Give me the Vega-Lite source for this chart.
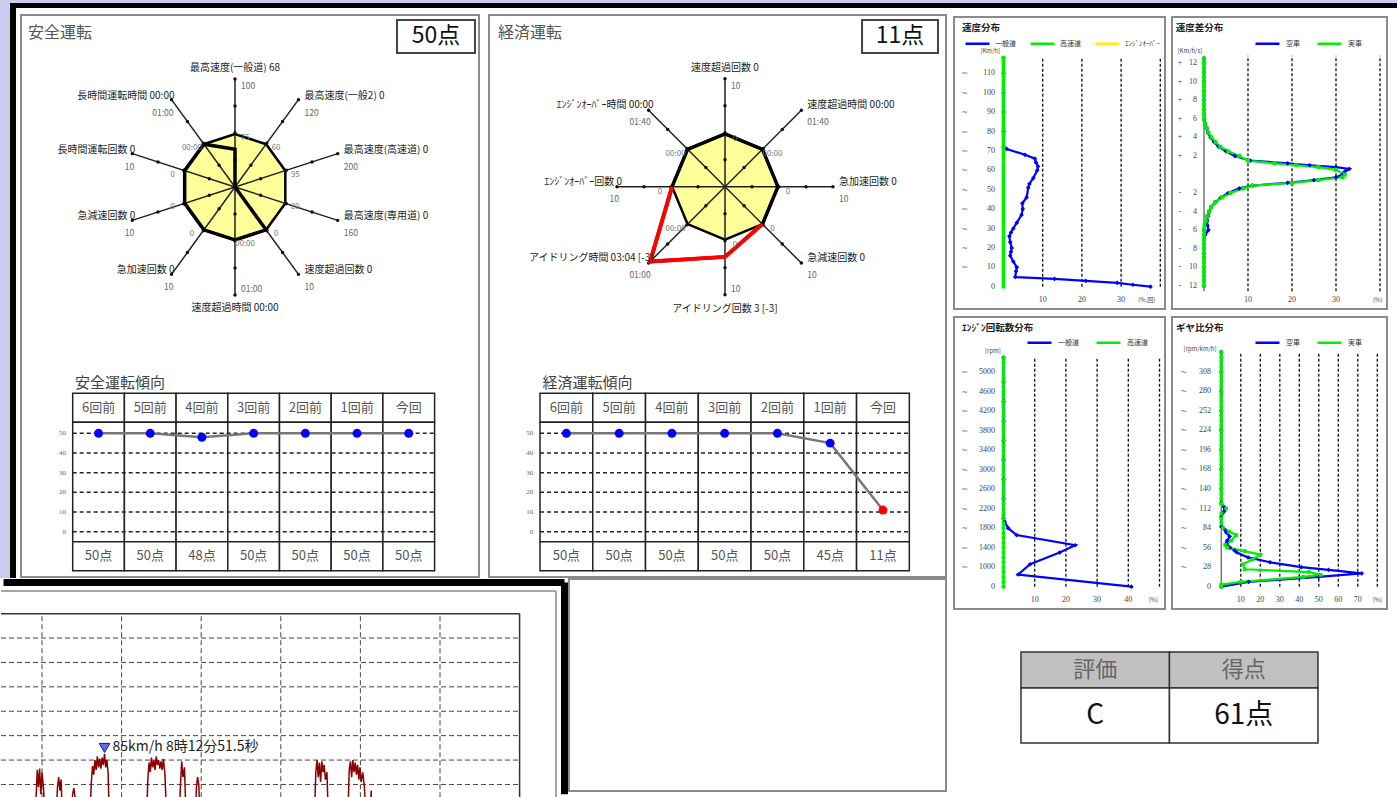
{
"$schema":"https://vega.github.io/schema/vega-lite/v6.json",
"padding":0,
"background":"#ffffff",
"config":{"view":{"stroke":null},"font":"Noto Sans CJK JP","legend":{"labelFont":"Noto Sans CJK JP"}},
"datasets":{
"radarA":[
{"idx":0,"name":"最高速度(一般道)","val":"68","max":"100","mid":"75","r":0.35},
{"idx":1,"name":"最高速度(一般2)","val":"0","max":"120","mid":"60","r":0},
{"idx":2,"name":"最高速度(高速道)","val":"0","max":"200","mid":"95","r":0},
{"idx":3,"name":"最高速度(専用道)","val":"0","max":"160","mid":"80","r":0},
{"idx":4,"name":"速度超過回数","val":"0","max":"10","mid":"0","r":0.49},
{"idx":5,"name":"速度超過時間","val":"00:00","max":"01:00","mid":"00:00","r":0.49},
{"idx":6,"name":"急加速回数","val":"0","max":"10","mid":"0","r":0.49},
{"idx":7,"name":"急減速回数","val":"0","max":"10","mid":"0","r":0.49},
{"idx":8,"name":"長時間運転回数","val":"0","max":"10","mid":"0","r":0.49},
{"idx":9,"name":"長時間運転時間","val":"00:00","max":"01:00","mid":"00:00","r":0.49}],
"radarB":[
{"idx":0,"name":"速度超過回数","val":"0","max":"10","mid":"0","r":0.49},
{"idx":1,"name":"速度超過時間","val":"00:00","max":"01:40","mid":"00:00","r":0.49},
{"idx":2,"name":"急加速回数","val":"0","max":"10","mid":"0","r":0.49},
{"idx":3,"name":"急減速回数","val":"0","max":"10","mid":"0","r":0.49},
{"idx":4,"name":"アイドリング回数","val":"3 [-3]","max":"10","mid":"0","r":0.65},
{"idx":5,"name":"アイドリング時間","val":"03:04 [-3]","max":"01:00","mid":"00:00","r":0.98},
{"idx":6,"name":"ｴﾝｼﾞﾝｵｰﾊﾞｰ回数","val":"0","max":"10","mid":"0","r":0.49},
{"idx":7,"name":"ｴﾝｼﾞﾝｵｰﾊﾞｰ時間","val":"00:00","max":"01:40","mid":"00:00","r":0.49}],
"trendA":[{"i":0,"p":"6回前","score":50},{"i":1,"p":"5回前","score":50},{"i":2,"p":"4回前","score":48},{"i":3,"p":"3回前","score":50},{"i":4,"p":"2回前","score":50},{"i":5,"p":"1回前","score":50},{"i":6,"p":"今回","score":50}],
"trendB":[{"i":0,"p":"6回前","score":50},{"i":1,"p":"5回前","score":50},{"i":2,"p":"4回前","score":50},{"i":3,"p":"3回前","score":50},{"i":4,"p":"2回前","score":50},{"i":5,"p":"1回前","score":45},{"i":6,"p":"今回","score":11}],
"gridT":[{"g":0},{"g":10},{"g":20},{"g":30},{"g":40},{"g":50}],
"speedDist":[
{"s":"一般道","v":0,"p":37.5},{"s":"一般道","v":1,"p":33},{"s":"一般道","v":2,"p":29},{"s":"一般道","v":3,"p":21},{"s":"一般道","v":4,"p":13},{"s":"一般道","v":5,"p":3},{"s":"一般道","v":8,"p":3.2},{"s":"一般道","v":10,"p":3.4},{"s":"一般道","v":13,"p":2.5},{"s":"一般道","v":16,"p":1.7},{"s":"一般道","v":18,"p":1.9},{"s":"一般道","v":20,"p":2.1},{"s":"一般道","v":23,"p":1.7},{"s":"一般道","v":26,"p":1.5},{"s":"一般道","v":28,"p":1.9},{"s":"一般道","v":30,"p":2.5},{"s":"一般道","v":33,"p":3.4},{"s":"一般道","v":37,"p":4.6},{"s":"一般道","v":40,"p":4.9},{"s":"一般道","v":43,"p":4.8},{"s":"一般道","v":46,"p":5.9},{"s":"一般道","v":51,"p":6.3},{"s":"一般道","v":53,"p":6.6},{"s":"一般道","v":56,"p":7.6},{"s":"一般道","v":60,"p":8.6},{"s":"一般道","v":62,"p":8.8},{"s":"一般道","v":64,"p":8.3},{"s":"一般道","v":66,"p":8.0},{"s":"一般道","v":68,"p":5.5},{"s":"一般道","v":71,"p":0.8},{"s":"一般道","v":72,"p":0},{"s":"一般道","v":80,"p":0},{"s":"一般道","v":90,"p":0},{"s":"一般道","v":100,"p":0},{"s":"一般道","v":110,"p":0},{"s":"一般道","v":118,"p":0},
{"s":"高速道","v":0,"p":0},{"s":"高速道","v":2,"p":0},{"s":"高速道","v":4,"p":0},{"s":"高速道","v":6,"p":0},{"s":"高速道","v":8,"p":0},{"s":"高速道","v":10,"p":0},{"s":"高速道","v":12,"p":0},{"s":"高速道","v":14,"p":0},{"s":"高速道","v":16,"p":0},{"s":"高速道","v":18,"p":0},{"s":"高速道","v":20,"p":0},{"s":"高速道","v":22,"p":0},{"s":"高速道","v":24,"p":0},{"s":"高速道","v":26,"p":0},{"s":"高速道","v":28,"p":0},{"s":"高速道","v":30,"p":0},{"s":"高速道","v":32,"p":0},{"s":"高速道","v":34,"p":0},{"s":"高速道","v":36,"p":0},{"s":"高速道","v":38,"p":0},{"s":"高速道","v":40,"p":0},{"s":"高速道","v":42,"p":0},{"s":"高速道","v":44,"p":0},{"s":"高速道","v":46,"p":0},{"s":"高速道","v":48,"p":0},{"s":"高速道","v":50,"p":0},{"s":"高速道","v":52,"p":0},{"s":"高速道","v":54,"p":0},{"s":"高速道","v":56,"p":0},{"s":"高速道","v":58,"p":0},{"s":"高速道","v":60,"p":0},{"s":"高速道","v":62,"p":0},{"s":"高速道","v":64,"p":0},{"s":"高速道","v":66,"p":0},{"s":"高速道","v":68,"p":0},{"s":"高速道","v":70,"p":0},{"s":"高速道","v":72,"p":0},{"s":"高速道","v":74,"p":0},{"s":"高速道","v":76,"p":0},{"s":"高速道","v":78,"p":0},{"s":"高速道","v":80,"p":0},{"s":"高速道","v":82,"p":0},{"s":"高速道","v":84,"p":0},{"s":"高速道","v":86,"p":0},{"s":"高速道","v":88,"p":0},{"s":"高速道","v":90,"p":0},{"s":"高速道","v":92,"p":0},{"s":"高速道","v":94,"p":0},{"s":"高速道","v":96,"p":0},{"s":"高速道","v":98,"p":0},{"s":"高速道","v":100,"p":0},{"s":"高速道","v":102,"p":0},{"s":"高速道","v":104,"p":0},{"s":"高速道","v":106,"p":0},{"s":"高速道","v":108,"p":0},{"s":"高速道","v":110,"p":0},{"s":"高速道","v":112,"p":0},{"s":"高速道","v":114,"p":0},{"s":"高速道","v":116,"p":0},{"s":"高速道","v":118,"p":0}],
"speedLab":[{"v":0},{"v":10},{"v":20},{"v":30},{"v":40},{"v":50},{"v":60},{"v":70},{"v":80},{"v":90},{"v":100},{"v":110}],
"accelDist":[
{"s":"空車","v":12.5,"p":0},{"s":"空車","v":12,"p":0},{"s":"空車","v":11,"p":0},{"s":"空車","v":10,"p":0},{"s":"空車","v":9,"p":0},{"s":"空車","v":8,"p":0},{"s":"空車","v":7,"p":0},{"s":"空車","v":6,"p":0.1},{"s":"空車","v":5.5,"p":0.3},{"s":"空車","v":5,"p":0.6},{"s":"空車","v":4.5,"p":0.9},{"s":"空車","v":4,"p":1.5},{"s":"空車","v":3.5,"p":2.3},{"s":"空車","v":3,"p":3.3},{"s":"空車","v":2.5,"p":5},{"s":"空車","v":2,"p":7},{"s":"空車","v":1.5,"p":10.5},{"s":"空車","v":1.2,"p":19},{"s":"空車","v":1,"p":24},{"s":"空車","v":0.8,"p":30},{"s":"空車","v":0.6,"p":33},{"s":"空車","v":0.3,"p":32},{"s":"空車","v":0,"p":31.5},{"s":"空車","v":-0.3,"p":30},{"s":"空車","v":-0.6,"p":25},{"s":"空車","v":-0.9,"p":19},{"s":"空車","v":-1.2,"p":11},{"s":"空車","v":-1.5,"p":8},{"s":"空車","v":-2,"p":5.5},{"s":"空車","v":-2.5,"p":3.8},{"s":"空車","v":-3,"p":2.6},{"s":"空車","v":-3.5,"p":1.6},{"s":"空車","v":-4,"p":1.2},{"s":"空車","v":-4.5,"p":0.9},{"s":"空車","v":-5,"p":0.7},{"s":"空車","v":-5.5,"p":0.8},{"s":"空車","v":-6,"p":1.0},{"s":"空車","v":-6.5,"p":0.3},{"s":"空車","v":-7,"p":0},{"s":"空車","v":-8,"p":0},{"s":"空車","v":-9,"p":0},{"s":"空車","v":-10,"p":0},{"s":"空車","v":-11,"p":0},{"s":"空車","v":-12,"p":0},
{"s":"実車","v":12.5,"p":0},{"s":"実車","v":12,"p":0},{"s":"実車","v":11.5,"p":0},{"s":"実車","v":11,"p":0},{"s":"実車","v":10.5,"p":0},{"s":"実車","v":10,"p":0},{"s":"実車","v":9.5,"p":0},{"s":"実車","v":9,"p":0},{"s":"実車","v":8.5,"p":0},{"s":"実車","v":8,"p":0},{"s":"実車","v":7.5,"p":0},{"s":"実車","v":7,"p":0},{"s":"実車","v":6.5,"p":0},{"s":"実車","v":6,"p":0},{"s":"実車","v":5.5,"p":0.2},{"s":"実車","v":5,"p":0.6},{"s":"実車","v":4.5,"p":1.0},{"s":"実車","v":4,"p":1.7},{"s":"実車","v":3.5,"p":2.6},{"s":"実車","v":3,"p":3.7},{"s":"実車","v":2.5,"p":5.5},{"s":"実車","v":2,"p":8},{"s":"実車","v":1.5,"p":10},{"s":"実車","v":1.2,"p":16},{"s":"実車","v":1,"p":21},{"s":"実車","v":0.8,"p":26},{"s":"実車","v":0.5,"p":30},{"s":"実車","v":0,"p":32},{"s":"実車","v":-0.3,"p":31.5},{"s":"実車","v":-0.6,"p":26},{"s":"実車","v":-0.9,"p":20},{"s":"実車","v":-1.2,"p":11},{"s":"実車","v":-1.5,"p":9},{"s":"実車","v":-2,"p":6},{"s":"実車","v":-2.5,"p":4},{"s":"実車","v":-3,"p":2.5},{"s":"実車","v":-3.5,"p":1.6},{"s":"実車","v":-4,"p":1.1},{"s":"実車","v":-4.5,"p":0.7},{"s":"実車","v":-5,"p":0.4},{"s":"実車","v":-5.5,"p":0.1},{"s":"実車","v":-6,"p":0},{"s":"実車","v":-6.5,"p":0},{"s":"実車","v":-7,"p":0},{"s":"実車","v":-7.5,"p":0},{"s":"実車","v":-8,"p":0},{"s":"実車","v":-8.5,"p":0},{"s":"実車","v":-9,"p":0},{"s":"実車","v":-9.5,"p":0},{"s":"実車","v":-10,"p":0},{"s":"実車","v":-10.5,"p":0},{"s":"実車","v":-11,"p":0},{"s":"実車","v":-11.5,"p":0},{"s":"実車","v":-12,"p":0}],
"accelLab":[{"v":12},{"v":10},{"v":8},{"v":6},{"v":4},{"v":2},{"v":-2},{"v":-4},{"v":-6},{"v":-8},{"v":-10},{"v":-12}],
"rpmDist":[
{"s":"一般道","v":600,"p":41},{"s":"一般道","v":850,"p":4.7},{"s":"一般道","v":1060,"p":8.5},{"s":"一般道","v":1300,"p":18},{"s":"一般道","v":1450,"p":23},{"s":"一般道","v":1660,"p":4.2},{"s":"一般道","v":1800,"p":1.5},{"s":"一般道","v":1930,"p":0.4},{"s":"一般道","v":2000,"p":0},{"s":"一般道","v":2400,"p":0},{"s":"一般道","v":2800,"p":0},{"s":"一般道","v":3200,"p":0},{"s":"一般道","v":3600,"p":0},{"s":"一般道","v":4000,"p":0},{"s":"一般道","v":4400,"p":0},{"s":"一般道","v":4800,"p":0},{"s":"一般道","v":5300,"p":0},
{"s":"高速道","v":600,"p":0},{"s":"高速道","v":700,"p":0},{"s":"高速道","v":800,"p":0},{"s":"高速道","v":900,"p":0},{"s":"高速道","v":1000,"p":0},{"s":"高速道","v":1100,"p":0},{"s":"高速道","v":1200,"p":0},{"s":"高速道","v":1300,"p":0},{"s":"高速道","v":1400,"p":0},{"s":"高速道","v":1500,"p":0},{"s":"高速道","v":1600,"p":0},{"s":"高速道","v":1700,"p":0},{"s":"高速道","v":1800,"p":0},{"s":"高速道","v":1900,"p":0},{"s":"高速道","v":2000,"p":0},{"s":"高速道","v":2100,"p":0},{"s":"高速道","v":2200,"p":0},{"s":"高速道","v":2300,"p":0},{"s":"高速道","v":2400,"p":0},{"s":"高速道","v":2500,"p":0},{"s":"高速道","v":2600,"p":0},{"s":"高速道","v":2700,"p":0},{"s":"高速道","v":2800,"p":0},{"s":"高速道","v":2900,"p":0},{"s":"高速道","v":3000,"p":0},{"s":"高速道","v":3100,"p":0},{"s":"高速道","v":3200,"p":0},{"s":"高速道","v":3300,"p":0},{"s":"高速道","v":3400,"p":0},{"s":"高速道","v":3500,"p":0},{"s":"高速道","v":3600,"p":0},{"s":"高速道","v":3700,"p":0},{"s":"高速道","v":3800,"p":0},{"s":"高速道","v":3900,"p":0},{"s":"高速道","v":4000,"p":0},{"s":"高速道","v":4100,"p":0},{"s":"高速道","v":4200,"p":0},{"s":"高速道","v":4300,"p":0},{"s":"高速道","v":4400,"p":0},{"s":"高速道","v":4500,"p":0},{"s":"高速道","v":4600,"p":0},{"s":"高速道","v":4700,"p":0},{"s":"高速道","v":4800,"p":0},{"s":"高速道","v":4900,"p":0},{"s":"高速道","v":5000,"p":0},{"s":"高速道","v":5100,"p":0},{"s":"高速道","v":5200,"p":0},{"s":"高速道","v":5300,"p":0}],
"rpmLab":[{"v":600,"t":"0"},{"v":1000,"t":"1000"},{"v":1400,"t":"1400"},{"v":1800,"t":"1800"},{"v":2200,"t":"2200"},{"v":2600,"t":"2600"},{"v":3000,"t":"3000"},{"v":3400,"t":"3400"},{"v":3800,"t":"3800"},{"v":4200,"t":"4200"},{"v":4600,"t":"4600"},{"v":5000,"t":"5000"}],
"gearDist":[
{"s":"空車","v":0,"p":0},{"s":"空車","v":7,"p":14},{"s":"空車","v":14,"p":50},{"s":"空車","v":19,"p":72},{"s":"空車","v":24,"p":55},{"s":"空車","v":28,"p":41},{"s":"空車","v":35,"p":25},{"s":"空車","v":42,"p":13.7},{"s":"空車","v":49,"p":8},{"s":"空車","v":52,"p":6.8},{"s":"空車","v":56,"p":4.5},{"s":"空車","v":62,"p":2.6},{"s":"空車","v":66,"p":3},{"s":"空車","v":72,"p":4.3},{"s":"空車","v":78,"p":2.5},{"s":"空車","v":82,"p":1.7},{"s":"空車","v":86,"p":0},{"s":"空車","v":100,"p":0},{"s":"空車","v":108,"p":1.5},{"s":"空車","v":114,"p":1.5},{"s":"空車","v":120,"p":0},{"s":"空車","v":140,"p":0},{"s":"空車","v":168,"p":0},{"s":"空車","v":196,"p":0},{"s":"空車","v":224,"p":0},{"s":"空車","v":252,"p":0},{"s":"空車","v":280,"p":0},{"s":"空車","v":308,"p":0},{"s":"空車","v":336,"p":0},
{"s":"実車","v":0,"p":0},{"s":"実車","v":3,"p":0},{"s":"実車","v":7,"p":10},{"s":"実車","v":14,"p":42},{"s":"実車","v":17,"p":51},{"s":"実車","v":21,"p":45},{"s":"実車","v":25,"p":12},{"s":"実車","v":32,"p":11},{"s":"実車","v":39,"p":16},{"s":"実車","v":46,"p":20},{"s":"実車","v":51,"p":12},{"s":"実車","v":56,"p":3},{"s":"実車","v":60,"p":2},{"s":"実車","v":66,"p":5},{"s":"実車","v":74,"p":7.7},{"s":"実車","v":79,"p":4},{"s":"実車","v":84,"p":0.8},{"s":"実車","v":91,"p":0},{"s":"実車","v":98,"p":0},{"s":"実車","v":105,"p":0},{"s":"実車","v":112,"p":2.5},{"s":"実車","v":119,"p":0},{"s":"実車","v":126,"p":0},{"s":"実車","v":133,"p":0},{"s":"実車","v":140,"p":0},{"s":"実車","v":147,"p":0},{"s":"実車","v":154,"p":0},{"s":"実車","v":161,"p":0},{"s":"実車","v":168,"p":0},{"s":"実車","v":175,"p":0},{"s":"実車","v":182,"p":0},{"s":"実車","v":189,"p":0},{"s":"実車","v":196,"p":0},{"s":"実車","v":203,"p":0},{"s":"実車","v":210,"p":0},{"s":"実車","v":217,"p":0},{"s":"実車","v":224,"p":0},{"s":"実車","v":231,"p":0},{"s":"実車","v":238,"p":0},{"s":"実車","v":245,"p":0},{"s":"実車","v":252,"p":0},{"s":"実車","v":259,"p":0},{"s":"実車","v":266,"p":0},{"s":"実車","v":273,"p":0},{"s":"実車","v":280,"p":0},{"s":"実車","v":287,"p":0},{"s":"実車","v":294,"p":0},{"s":"実車","v":301,"p":0},{"s":"実車","v":308,"p":0},{"s":"実車","v":315,"p":0},{"s":"実車","v":322,"p":0},{"s":"実車","v":329,"p":0},{"s":"実車","v":336,"p":0}],
"gearLab":[{"v":0},{"v":28},{"v":56},{"v":84},{"v":112},{"v":140},{"v":168},{"v":196},{"v":224},{"v":252},{"v":280},{"v":308}],
"drive":[
{"t":3.9,"v":20},{"t":4.3,"v":55},{"t":4.4,"v":72},{"t":4.55,"v":58},{"t":4.7,"v":73},{"t":4.85,"v":52},{"t":5.0,"v":70},{"t":5.2,"v":56},{"t":5.4,"v":25},
{"t":6.7,"v":25},{"t":6.95,"v":58},{"t":7.1,"v":66},{"t":7.25,"v":55},{"t":7.4,"v":64},{"t":7.6,"v":24},
{"t":8.6,"v":20},{"t":8.85,"v":52},{"t":9.0,"v":57},{"t":9.15,"v":50},{"t":9.3,"v":20},
{"t":11.0,"v":30},{"t":11.2,"v":62},{"t":11.35,"v":75},{"t":11.5,"v":68},{"t":11.65,"v":80},{"t":11.8,"v":72},{"t":11.95,"v":83},{"t":12.1,"v":74},{"t":12.25,"v":81},{"t":12.4,"v":73},{"t":12.55,"v":82},{"t":12.7,"v":76},{"t":12.86,"v":85},{"t":13.0,"v":74},{"t":13.15,"v":80},{"t":13.3,"v":70},{"t":13.5,"v":25},
{"t":18.1,"v":25},{"t":18.3,"v":65},{"t":18.45,"v":78},{"t":18.6,"v":70},{"t":18.75,"v":82},{"t":18.9,"v":74},{"t":19.05,"v":80},{"t":19.2,"v":72},{"t":19.35,"v":83},{"t":19.5,"v":76},{"t":19.65,"v":80},{"t":19.8,"v":73},{"t":19.95,"v":79},{"t":20.1,"v":72},{"t":20.25,"v":81},{"t":20.45,"v":68},{"t":20.7,"v":25},
{"t":22.2,"v":25},{"t":22.4,"v":60},{"t":22.55,"v":79},{"t":22.7,"v":66},{"t":22.9,"v":74},{"t":23.15,"v":22},
{"t":24.2,"v":20},{"t":24.4,"v":58},{"t":24.55,"v":66},{"t":24.7,"v":60},{"t":24.9,"v":22},
{"t":39.2,"v":30},{"t":39.4,"v":70},{"t":39.55,"v":80},{"t":39.7,"v":66},{"t":39.85,"v":78},{"t":40.0,"v":62},{"t":40.15,"v":79},{"t":40.3,"v":70},{"t":40.45,"v":76},{"t":40.6,"v":64},{"t":40.8,"v":70},{"t":41.0,"v":25},
{"t":43.4,"v":30},{"t":43.6,"v":72},{"t":43.75,"v":79},{"t":43.9,"v":66},{"t":44.05,"v":80},{"t":44.2,"v":70},{"t":44.35,"v":78},{"t":44.5,"v":68},{"t":44.65,"v":76},{"t":44.8,"v":64},{"t":44.95,"v":74},{"t":45.1,"v":62},{"t":45.3,"v":70},{"t":45.5,"v":58},{"t":45.8,"v":22},
{"t":46.2,"v":20},{"t":46.35,"v":55},{"t":46.5,"v":20}],
"evalT":[{"c":0,"h":"評価","b":"C"},{"c":1,"h":"得点","b":"61点"}]
},
"spacing":0,
"resolve":{"scale":{"color":"independent"}},
"vconcat":[
{"width":1397,"height":3,"data":{"values":[{}]},"mark":{"type":"point","size":0,"opacity":0},"view":{"fill":"#cbcbef","stroke":null}},
{"hconcat":[
 {"width":10,"height":5,"data":{"values":[{}]},"mark":{"type":"point","size":0,"opacity":0},"view":{"fill":"#cbcbef","stroke":null}},
 {"width":1387,"height":5,"data":{"values":[{}]},"mark":{"type":"point","size":0,"opacity":0},"view":{"fill":"#000000","stroke":null}}
],"spacing":0},
{"hconcat":[
{"vconcat":[
 {"hconcat":[
  {"width":10,"height":570,"data":{"values":[{}]},"mark":{"type":"point","size":0,"opacity":0},"view":{"fill":"#cbcbef","stroke":null}},
  {"width":6,"height":570,"data":{"values":[{}]},"mark":{"type":"point","size":0,"opacity":0},"view":{"fill":"#000000","stroke":null}},
  {"width":4,"height":570,"data":{"values":[{}]},"mark":{"type":"point","size":0,"opacity":0},"view":{"fill":null,"stroke":null}},
  {"vconcat":[
   {"width":458,"height":1,"data":{"values":[{}]},"mark":{"type":"point","size":0,"opacity":0},"view":{"fill":null,"stroke":null}},
   {"hconcat":[
    {"width":458,"height":562,"view":{"fill":"#ffffff","stroke":"#8a8a8a","strokeWidth":2},
     "resolve":{"scale":{"x":"independent","y":"independent"}},
     "layer":[
      {"layer":[
        {"data":{"name":"radarA"},"transform":[{"calculate":"0.49*sin(datum.idx*PI/5)","as":"px"},{"calculate":"0.49*cos(datum.idx*PI/5)","as":"py"}],"mark":{"type":"line","interpolate":"linear-closed","fill":"#ffff99","stroke":"#000000","strokeWidth":2.5},
         "encoding":{"x":{"field":"px","type":"quantitative","scale":{"domain":[-1.9815,2.2593],"nice":false,"zero":false},"axis":null},"y":{"field":"py","type":"quantitative","scale":{"domain":[-3.6111,1.5926],"nice":false,"zero":false},"axis":null},"order":{"field":"idx","type":"quantitative"}}},
        {"data":{"name":"radarA"},"transform":[{"calculate":"0","as":"px"},{"calculate":"0","as":"py"},{"calculate":"sin(datum.idx*PI/5)","as":"ex"},{"calculate":"cos(datum.idx*PI/5)","as":"ey"}],"mark":{"type":"rule","color":"#222222","strokeWidth":1.5},
         "encoding":{"x":{"field":"px","type":"quantitative","scale":{"domain":[-1.9815,2.2593],"nice":false,"zero":false},"axis":null},"y":{"field":"py","type":"quantitative","scale":{"domain":[-3.6111,1.5926],"nice":false,"zero":false},"axis":null},"x2":{"field":"ex"},"y2":{"field":"ey"}}},
        {"data":{"name":"radarA"},"transform":[{"calculate":"[0.25,0.5,0.75,1]","as":"tk"},{"flatten":["tk"]},{"calculate":"datum.tk*sin(datum.idx*PI/5)","as":"px"},{"calculate":"datum.tk*cos(datum.idx*PI/5)","as":"py"}],"mark":{"type":"point","filled":true,"size":12,"color":"#111111","opacity":1},
         "encoding":{"x":{"field":"px","type":"quantitative","scale":{"domain":[-1.9815,2.2593],"nice":false,"zero":false},"axis":null},"y":{"field":"py","type":"quantitative","scale":{"domain":[-3.6111,1.5926],"nice":false,"zero":false},"axis":null}}},
        {"data":{"name":"radarA"},"transform":[{"calculate":"datum.r*sin(datum.idx*PI/5)","as":"px"},{"calculate":"datum.r*cos(datum.idx*PI/5)","as":"py"}],"mark":{"type":"line","interpolate":"linear-closed","color":"#000000","strokeWidth":3.5},
         "encoding":{"x":{"field":"px","type":"quantitative","scale":{"domain":[-1.9815,2.2593],"nice":false,"zero":false},"axis":null},"y":{"field":"py","type":"quantitative","scale":{"domain":[-3.6111,1.5926],"nice":false,"zero":false},"axis":null},"order":{"field":"idx","type":"quantitative"}}},
        {"data":{"name":"radarA"},"transform":[{"calculate":"sin(datum.idx*PI/5)","as":"px"},{"calculate":"cos(datum.idx*PI/5)","as":"py"},{"calculate":"datum.name + ' ' + datum.val","as":"lbl"}],
         "mark":{"type":"text","fontSize":10,"color":"#222222","align":{"expr":"datum.px > 0.1 ? 'left' : datum.px < -0.1 ? 'right' : 'center'"},"dx":{"expr":"datum.px > 0.1 ? 6 : datum.px < -0.1 ? 3 : 0"},"dy":{"expr":"abs(datum.px) < 0.1 ? (datum.py > 0 ? -11 : 13) : -4"}},
         "encoding":{"x":{"field":"px","type":"quantitative","scale":{"domain":[-1.9815,2.2593],"nice":false,"zero":false},"axis":null},"y":{"field":"py","type":"quantitative","scale":{"domain":[-3.6111,1.5926],"nice":false,"zero":false},"axis":null},"text":{"field":"lbl"}}},
        {"data":{"name":"radarA"},"transform":[{"calculate":"sin(datum.idx*PI/5)","as":"px"},{"calculate":"cos(datum.idx*PI/5)","as":"py"}],
         "mark":{"type":"text","fontSize":8.5,"color":"#666666","align":{"expr":"datum.px < -0.1 ? 'right' : 'left'"},"dx":{"expr":"datum.px < -0.1 ? 2 : 6"},"dy":{"expr":"abs(datum.px) < 0.1 ? (datum.py > 0 ? 7 : -6) : 13"}},
         "encoding":{"x":{"field":"px","type":"quantitative","scale":{"domain":[-1.9815,2.2593],"nice":false,"zero":false},"axis":null},"y":{"field":"py","type":"quantitative","scale":{"domain":[-3.6111,1.5926],"nice":false,"zero":false},"axis":null},"text":{"field":"max"}}},
        {"data":{"name":"radarA"},"transform":[{"calculate":"0.49*sin(datum.idx*PI/5)","as":"px"},{"calculate":"0.49*cos(datum.idx*PI/5)","as":"py"}],
         "mark":{"type":"text","fontSize":8,"color":"#777777","dx":{"expr":"datum.px < -0.1 ? -12 : 10"},"dy":4},
         "encoding":{"x":{"field":"px","type":"quantitative","scale":{"domain":[-1.9815,2.2593],"nice":false,"zero":false},"axis":null},"y":{"field":"py","type":"quantitative","scale":{"domain":[-3.6111,1.5926],"nice":false,"zero":false},"axis":null},"text":{"field":"mid"}}},
        {"data":{"values":[{"t":"安全運転"}]},"mark":{"type":"text","align":"left","fontSize":16,"color":"#555555"},
         "encoding":{"x":{"datum":-1.917,"type":"quantitative","scale":{"domain":[-1.9815,2.2593],"nice":false,"zero":false},"axis":null},"y":{"datum":1.426,"type":"quantitative","scale":{"domain":[-3.6111,1.5926],"nice":false,"zero":false},"axis":null},"text":{"field":"t"}}},
        {"data":{"values":[{"s":50}]},"mark":{"type":"rect","fill":"#ffffff","stroke":"#444444","strokeWidth":2},
         "encoding":{"x":{"datum":1.5,"type":"quantitative","scale":{"domain":[-1.9815,2.2593],"nice":false,"zero":false},"axis":null},"x2":{"datum":2.222},"y":{"datum":1.546,"type":"quantitative","scale":{"domain":[-3.6111,1.5926],"nice":false,"zero":false},"axis":null},"y2":{"datum":1.241}}},
        {"data":{"values":[{"s":50}]},"transform":[{"calculate":"datum.s + '点'","as":"lbl"}],"mark":{"type":"text","fontSize":23,"color":"#111111"},
         "encoding":{"x":{"datum":1.861,"type":"quantitative","scale":{"domain":[-1.9815,2.2593],"nice":false,"zero":false},"axis":null},"y":{"datum":1.394,"type":"quantitative","scale":{"domain":[-3.6111,1.5926],"nice":false,"zero":false},"axis":null},"text":{"field":"lbl"}}}
       ]},
      {"layer":[
        {"data":{"name":"trendA"},"transform":[{"calculate":"datum.i-0.5","as":"x0"},{"calculate":"datum.i+0.5","as":"x1"}],"mark":{"type":"rect","fill":"#ffffff","stroke":"#222222","strokeWidth":1.5},
         "encoding":{"x":{"field":"x0","type":"quantitative","scale":{"domain":[-1.5,7.359],"nice":false,"zero":false},"axis":null},"x2":{"field":"x1"},"y":{"datum":55.6,"type":"quantitative","scale":{"domain":[-23.02,262.55],"nice":false,"zero":false},"axis":null},"y2":{"datum":70.3}}},
        {"data":{"name":"trendA"},"transform":[{"calculate":"datum.i-0.5","as":"x0"},{"calculate":"datum.i+0.5","as":"x1"}],"mark":{"type":"rect","fill":"#ffffff","stroke":"#222222","strokeWidth":1.5},
         "encoding":{"x":{"field":"x0","type":"quantitative","scale":{"domain":[-1.5,7.359],"nice":false,"zero":false},"axis":null},"x2":{"field":"x1"},"y":{"datum":-5.08,"type":"quantitative","scale":{"domain":[-23.02,262.55],"nice":false,"zero":false},"axis":null},"y2":{"datum":55.6}}},
        {"data":{"name":"trendA"},"transform":[{"calculate":"datum.i-0.5","as":"x0"},{"calculate":"datum.i+0.5","as":"x1"}],"mark":{"type":"rect","fill":"#ffffff","stroke":"#222222","strokeWidth":1.5},
         "encoding":{"x":{"field":"x0","type":"quantitative","scale":{"domain":[-1.5,7.359],"nice":false,"zero":false},"axis":null},"x2":{"field":"x1"},"y":{"datum":-19.8,"type":"quantitative","scale":{"domain":[-23.02,262.55],"nice":false,"zero":false},"axis":null},"y2":{"datum":-5.08}}},
        {"data":{"name":"gridT"},"mark":{"type":"rule","color":"#222222","strokeWidth":1.5,"strokeDash":[4,3]},
         "encoding":{"x":{"datum":-0.5,"type":"quantitative","scale":{"domain":[-1.5,7.359],"nice":false,"zero":false},"axis":null},"x2":{"datum":6.5},"y":{"field":"g","type":"quantitative","scale":{"domain":[-23.02,262.55],"nice":false,"zero":false},"axis":null}}},
        {"data":{"name":"gridT"},"mark":{"type":"text","align":"right","fontSize":7,"font":"Liberation Serif","color":"#666666"},
         "encoding":{"x":{"datum":-0.63,"type":"quantitative","scale":{"domain":[-1.5,7.359],"nice":false,"zero":false},"axis":null},"y":{"field":"g","type":"quantitative","scale":{"domain":[-23.02,262.55],"nice":false,"zero":false},"axis":null},"text":{"field":"g","type":"quantitative"}}},
        {"data":{"name":"trendA"},"mark":{"type":"line","color":"#777777","strokeWidth":2.5},
         "encoding":{"x":{"field":"i","type":"quantitative","scale":{"domain":[-1.5,7.359],"nice":false,"zero":false},"axis":null},"y":{"field":"score","type":"quantitative","scale":{"domain":[-23.02,262.55],"nice":false,"zero":false},"axis":null}}},
        {"data":{"name":"trendA"},"mark":{"type":"circle","size":80,"opacity":1},
         "encoding":{"x":{"field":"i","type":"quantitative","scale":{"domain":[-1.5,7.359],"nice":false,"zero":false},"axis":null},"y":{"field":"score","type":"quantitative","scale":{"domain":[-23.02,262.55],"nice":false,"zero":false},"axis":null},"color":{"condition":{"test":"datum.score < 30","value":"#ff0000"},"value":"#0000ff"}}},
        {"data":{"name":"trendA"},"mark":{"type":"text","fontSize":13,"color":"#555555"},
         "encoding":{"x":{"field":"i","type":"quantitative","scale":{"domain":[-1.5,7.359],"nice":false,"zero":false},"axis":null},"y":{"datum":62.95,"type":"quantitative","scale":{"domain":[-23.02,262.55],"nice":false,"zero":false},"axis":null},"text":{"field":"p"}}},
        {"data":{"name":"trendA"},"transform":[{"calculate":"datum.score + '点'","as":"lbl"}],"mark":{"type":"text","fontSize":13,"color":"#555555"},
         "encoding":{"x":{"field":"i","type":"quantitative","scale":{"domain":[-1.5,7.359],"nice":false,"zero":false},"axis":null},"y":{"datum":-12.44,"type":"quantitative","scale":{"domain":[-23.02,262.55],"nice":false,"zero":false},"axis":null},"text":{"field":"lbl"}}},
        {"data":{"values":[{"t":"安全運転傾向"}]},"mark":{"type":"text","align":"left","fontSize":15,"color":"#444444"},
         "encoding":{"x":{"datum":-0.455,"type":"quantitative","scale":{"domain":[-1.5,7.359],"nice":false,"zero":false},"axis":null},"y":{"datum":75.4,"type":"quantitative","scale":{"domain":[-23.02,262.55],"nice":false,"zero":false},"axis":null},"text":{"field":"t"}}}
       ]}
     ]},
    {"width":457,"height":562,"view":{"fill":"#ffffff","stroke":"#8a8a8a","strokeWidth":2},
     "resolve":{"scale":{"x":"independent","y":"independent"}},
     "layer":[
      {"layer":[
        {"data":{"name":"radarB"},"transform":[{"calculate":"0.49*sin(datum.idx*PI/4)","as":"px"},{"calculate":"0.49*cos(datum.idx*PI/4)","as":"py"}],"mark":{"type":"line","interpolate":"linear-closed","fill":"#ffff99","stroke":"#000000","strokeWidth":2.5},
         "encoding":{"x":{"field":"px","type":"quantitative","scale":{"domain":[-2.1852,2.0463],"nice":false,"zero":false},"axis":null},"y":{"field":"py","type":"quantitative","scale":{"domain":[-3.6139,1.5898],"nice":false,"zero":false},"axis":null},"order":{"field":"idx","type":"quantitative"}}},
        {"data":{"name":"radarB"},"transform":[{"calculate":"0","as":"px"},{"calculate":"0","as":"py"},{"calculate":"sin(datum.idx*PI/4)","as":"ex"},{"calculate":"cos(datum.idx*PI/4)","as":"ey"}],"mark":{"type":"rule","color":"#222222","strokeWidth":1.5},
         "encoding":{"x":{"field":"px","type":"quantitative","scale":{"domain":[-2.1852,2.0463],"nice":false,"zero":false},"axis":null},"y":{"field":"py","type":"quantitative","scale":{"domain":[-3.6139,1.5898],"nice":false,"zero":false},"axis":null},"x2":{"field":"ex"},"y2":{"field":"ey"}}},
        {"data":{"name":"radarB"},"transform":[{"calculate":"[0.25,0.5,0.75,1]","as":"tk"},{"flatten":["tk"]},{"calculate":"datum.tk*sin(datum.idx*PI/4)","as":"px"},{"calculate":"datum.tk*cos(datum.idx*PI/4)","as":"py"}],"mark":{"type":"point","filled":true,"size":12,"color":"#111111","opacity":1},
         "encoding":{"x":{"field":"px","type":"quantitative","scale":{"domain":[-2.1852,2.0463],"nice":false,"zero":false},"axis":null},"y":{"field":"py","type":"quantitative","scale":{"domain":[-3.6139,1.5898],"nice":false,"zero":false},"axis":null}}},
        {"data":{"name":"radarB"},"transform":[{"calculate":"datum.r*sin(datum.idx*PI/4)","as":"px"},{"calculate":"datum.r*cos(datum.idx*PI/4)","as":"py"}],"mark":{"type":"line","interpolate":"linear-closed","color":"#000000","strokeWidth":3.5},
         "encoding":{"x":{"field":"px","type":"quantitative","scale":{"domain":[-2.1852,2.0463],"nice":false,"zero":false},"axis":null},"y":{"field":"py","type":"quantitative","scale":{"domain":[-3.6139,1.5898],"nice":false,"zero":false},"axis":null},"order":{"field":"idx","type":"quantitative"}}},
        {"data":{"name":"radarB"},"transform":[{"filter":"datum.idx >= 3 && datum.idx <= 6"},{"calculate":"datum.r*sin(datum.idx*PI/4)","as":"px"},{"calculate":"datum.r*cos(datum.idx*PI/4)","as":"py"}],"mark":{"type":"line","color":"#ff0000","strokeWidth":4},
         "encoding":{"x":{"field":"px","type":"quantitative","scale":{"domain":[-2.1852,2.0463],"nice":false,"zero":false},"axis":null},"y":{"field":"py","type":"quantitative","scale":{"domain":[-3.6139,1.5898],"nice":false,"zero":false},"axis":null},"order":{"field":"idx","type":"quantitative"}}},
        {"data":{"name":"radarB"},"transform":[{"calculate":"sin(datum.idx*PI/4)","as":"px"},{"calculate":"cos(datum.idx*PI/4)","as":"py"},{"calculate":"datum.name + ' ' + datum.val","as":"lbl"}],
         "mark":{"type":"text","fontSize":10,"color":"#222222","align":{"expr":"datum.px > 0.1 ? 'left' : datum.px < -0.1 ? 'right' : 'center'"},"dx":{"expr":"datum.px > 0.1 ? 6 : datum.px < -0.1 ? 5 : 0"},"dy":{"expr":"abs(datum.px) < 0.1 ? (datum.py > 0 ? -11 : 14) : -5"}},
         "encoding":{"x":{"field":"px","type":"quantitative","scale":{"domain":[-2.1852,2.0463],"nice":false,"zero":false},"axis":null},"y":{"field":"py","type":"quantitative","scale":{"domain":[-3.6139,1.5898],"nice":false,"zero":false},"axis":null},"text":{"field":"lbl"}}},
        {"data":{"name":"radarB"},"transform":[{"calculate":"sin(datum.idx*PI/4)","as":"px"},{"calculate":"cos(datum.idx*PI/4)","as":"py"}],
         "mark":{"type":"text","fontSize":8.5,"color":"#666666","align":{"expr":"datum.px < -0.1 ? 'right' : 'left'"},"dx":{"expr":"datum.px < -0.1 ? 2 : 6"},"dy":{"expr":"abs(datum.px) < 0.1 ? (datum.py > 0 ? 7 : -6) : 12"}},
         "encoding":{"x":{"field":"px","type":"quantitative","scale":{"domain":[-2.1852,2.0463],"nice":false,"zero":false},"axis":null},"y":{"field":"py","type":"quantitative","scale":{"domain":[-3.6139,1.5898],"nice":false,"zero":false},"axis":null},"text":{"field":"max"}}},
        {"data":{"name":"radarB"},"transform":[{"calculate":"0.49*sin(datum.idx*PI/4)","as":"px"},{"calculate":"0.49*cos(datum.idx*PI/4)","as":"py"}],
         "mark":{"type":"text","fontSize":8,"color":"#777777","dx":{"expr":"datum.px < -0.1 ? -12 : 10"},"dy":5},
         "encoding":{"x":{"field":"px","type":"quantitative","scale":{"domain":[-2.1852,2.0463],"nice":false,"zero":false},"axis":null},"y":{"field":"py","type":"quantitative","scale":{"domain":[-3.6139,1.5898],"nice":false,"zero":false},"axis":null},"text":{"field":"mid"}}},
        {"data":{"values":[{"t":"経済運転"}]},"mark":{"type":"text","align":"left","fontSize":16,"color":"#555555"},
         "encoding":{"x":{"datum":-2.102,"type":"quantitative","scale":{"domain":[-2.1852,2.0463],"nice":false,"zero":false},"axis":null},"y":{"datum":1.423,"type":"quantitative","scale":{"domain":[-3.6139,1.5898],"nice":false,"zero":false},"axis":null},"text":{"field":"t"}}},
        {"data":{"values":[{"s":11}]},"mark":{"type":"rect","fill":"#ffffff","stroke":"#444444","strokeWidth":2},
         "encoding":{"x":{"datum":1.269,"type":"quantitative","scale":{"domain":[-2.1852,2.0463],"nice":false,"zero":false},"axis":null},"x2":{"datum":1.972},"y":{"datum":1.544,"type":"quantitative","scale":{"domain":[-3.6139,1.5898],"nice":false,"zero":false},"axis":null},"y2":{"datum":1.238}}},
        {"data":{"values":[{"s":11}]},"transform":[{"calculate":"datum.s + '点'","as":"lbl"}],"mark":{"type":"text","fontSize":23,"color":"#111111"},
         "encoding":{"x":{"datum":1.62,"type":"quantitative","scale":{"domain":[-2.1852,2.0463],"nice":false,"zero":false},"axis":null},"y":{"datum":1.391,"type":"quantitative","scale":{"domain":[-3.6139,1.5898],"nice":false,"zero":false},"axis":null},"text":{"field":"lbl"}}}
       ]},
      {"layer":[
        {"data":{"name":"trendB"},"transform":[{"calculate":"datum.i-0.5","as":"x0"},{"calculate":"datum.i+0.5","as":"x1"}],"mark":{"type":"rect","fill":"#ffffff","stroke":"#222222","strokeWidth":1.5},
         "encoding":{"x":{"field":"x0","type":"quantitative","scale":{"domain":[-1.4667,7.195],"nice":false,"zero":false},"axis":null},"x2":{"field":"x1"},"y":{"datum":55.6,"type":"quantitative","scale":{"domain":[-23.02,262.55],"nice":false,"zero":false},"axis":null},"y2":{"datum":70.3}}},
        {"data":{"name":"trendB"},"transform":[{"calculate":"datum.i-0.5","as":"x0"},{"calculate":"datum.i+0.5","as":"x1"}],"mark":{"type":"rect","fill":"#ffffff","stroke":"#222222","strokeWidth":1.5},
         "encoding":{"x":{"field":"x0","type":"quantitative","scale":{"domain":[-1.4667,7.195],"nice":false,"zero":false},"axis":null},"x2":{"field":"x1"},"y":{"datum":-5.08,"type":"quantitative","scale":{"domain":[-23.02,262.55],"nice":false,"zero":false},"axis":null},"y2":{"datum":55.6}}},
        {"data":{"name":"trendB"},"transform":[{"calculate":"datum.i-0.5","as":"x0"},{"calculate":"datum.i+0.5","as":"x1"}],"mark":{"type":"rect","fill":"#ffffff","stroke":"#222222","strokeWidth":1.5},
         "encoding":{"x":{"field":"x0","type":"quantitative","scale":{"domain":[-1.4667,7.195],"nice":false,"zero":false},"axis":null},"x2":{"field":"x1"},"y":{"datum":-19.8,"type":"quantitative","scale":{"domain":[-23.02,262.55],"nice":false,"zero":false},"axis":null},"y2":{"datum":-5.08}}},
        {"data":{"name":"gridT"},"mark":{"type":"rule","color":"#222222","strokeWidth":1.5,"strokeDash":[4,3]},
         "encoding":{"x":{"datum":-0.5,"type":"quantitative","scale":{"domain":[-1.4667,7.195],"nice":false,"zero":false},"axis":null},"x2":{"datum":6.5},"y":{"field":"g","type":"quantitative","scale":{"domain":[-23.02,262.55],"nice":false,"zero":false},"axis":null}}},
        {"data":{"name":"gridT"},"mark":{"type":"text","align":"right","fontSize":7,"font":"Liberation Serif","color":"#666666"},
         "encoding":{"x":{"datum":-0.63,"type":"quantitative","scale":{"domain":[-1.4667,7.195],"nice":false,"zero":false},"axis":null},"y":{"field":"g","type":"quantitative","scale":{"domain":[-23.02,262.55],"nice":false,"zero":false},"axis":null},"text":{"field":"g","type":"quantitative"}}},
        {"data":{"name":"trendB"},"mark":{"type":"line","color":"#777777","strokeWidth":2.5},
         "encoding":{"x":{"field":"i","type":"quantitative","scale":{"domain":[-1.4667,7.195],"nice":false,"zero":false},"axis":null},"y":{"field":"score","type":"quantitative","scale":{"domain":[-23.02,262.55],"nice":false,"zero":false},"axis":null}}},
        {"data":{"name":"trendB"},"mark":{"type":"circle","size":80,"opacity":1},
         "encoding":{"x":{"field":"i","type":"quantitative","scale":{"domain":[-1.4667,7.195],"nice":false,"zero":false},"axis":null},"y":{"field":"score","type":"quantitative","scale":{"domain":[-23.02,262.55],"nice":false,"zero":false},"axis":null},"color":{"condition":{"test":"datum.score < 30","value":"#ff0000"},"value":"#0000ff"}}},
        {"data":{"name":"trendB"},"mark":{"type":"text","fontSize":13,"color":"#555555"},
         "encoding":{"x":{"field":"i","type":"quantitative","scale":{"domain":[-1.4667,7.195],"nice":false,"zero":false},"axis":null},"y":{"datum":62.95,"type":"quantitative","scale":{"domain":[-23.02,262.55],"nice":false,"zero":false},"axis":null},"text":{"field":"p"}}},
        {"data":{"name":"trendB"},"transform":[{"calculate":"datum.score + '点'","as":"lbl"}],"mark":{"type":"text","fontSize":13,"color":"#555555"},
         "encoding":{"x":{"field":"i","type":"quantitative","scale":{"domain":[-1.4667,7.195],"nice":false,"zero":false},"axis":null},"y":{"datum":-12.44,"type":"quantitative","scale":{"domain":[-23.02,262.55],"nice":false,"zero":false},"axis":null},"text":{"field":"lbl"}}},
        {"data":{"values":[{"t":"経済運転傾向"}]},"mark":{"type":"text","align":"left","fontSize":15,"color":"#444444"},
         "encoding":{"x":{"datum":-0.455,"type":"quantitative","scale":{"domain":[-1.4667,7.195],"nice":false,"zero":false},"axis":null},"y":{"datum":75.4,"type":"quantitative","scale":{"domain":[-23.02,262.55],"nice":false,"zero":false},"axis":null},"text":{"field":"t"}}}
       ]}
     ]}
   ],"spacing":8}
  ],"spacing":5}
 ],"spacing":0},
 {"hconcat":[
  {"width":568,"height":219,"view":{"fill":"#ffffff","stroke":null},
   "layer":[
    {"data":{"values":[{"t":5},{"t":15},{"t":25},{"t":35},{"t":45},{"t":55}]},"mark":{"type":"rule","color":"#444444","strokeWidth":1,"strokeDash":[5,3]},
     "encoding":{"x":{"field":"t","type":"quantitative","scale":{"domain":[-0.276,71.08],"nice":false,"zero":false},"axis":null},"y":{"datum":49.5,"type":"quantitative","scale":{"domain":[48.9,228.4],"nice":false,"zero":false},"axis":null},"y2":{"datum":200}}},
    {"data":{"values":[{"v":60},{"v":80},{"v":100},{"v":120},{"v":140},{"v":160},{"v":180}]},"mark":{"type":"rule","color":"#444444","strokeWidth":1,"strokeDash":[5,3]},
     "encoding":{"y":{"field":"v","type":"quantitative","scale":{"domain":[48.9,228.4],"nice":false,"zero":false},"axis":null},"x":{"datum":-0.15,"type":"quantitative","scale":{"domain":[-0.276,71.08],"nice":false,"zero":false},"axis":null},"x2":{"datum":65}}},
    {"data":{"values":[{}]},"mark":{"type":"rule","color":"#333333","strokeWidth":1.5},
     "encoding":{"x":{"datum":-0.15,"type":"quantitative","scale":{"domain":[-0.276,71.08],"nice":false,"zero":false},"axis":null},"x2":{"datum":65},"y":{"datum":200,"type":"quantitative","scale":{"domain":[48.9,228.4],"nice":false,"zero":false},"axis":null}}},
    {"data":{"values":[{}]},"mark":{"type":"rule","color":"#333333","strokeWidth":1.5},
     "encoding":{"x":{"datum":65,"type":"quantitative","scale":{"domain":[-0.276,71.08],"nice":false,"zero":false},"axis":null},"y":{"datum":49.5,"type":"quantitative","scale":{"domain":[48.9,228.4],"nice":false,"zero":false},"axis":null},"y2":{"datum":200}}},
    {"data":{"name":"drive"},"mark":{"type":"line","color":"#8b0000","strokeWidth":1.5,"clip":true},
     "encoding":{"x":{"field":"t","type":"quantitative","scale":{"domain":[-0.276,71.08],"nice":false,"zero":false},"axis":null},"y":{"field":"v","type":"quantitative","scale":{"domain":[48.9,228.4],"nice":false,"zero":false},"axis":null}}},
    {"data":{"values":[{"t":12.86,"v":85,"lbl":"85km/h 8時12分51.5秒"}]},"mark":{"type":"point","shape":"triangle-down","filled":true,"size":110,"fill":"#5b6bff","stroke":"#1a1a60","strokeWidth":1,"opacity":1,"yOffset":-6},
     "encoding":{"x":{"field":"t","type":"quantitative","scale":{"domain":[-0.276,71.08],"nice":false,"zero":false},"axis":null},"y":{"field":"v","type":"quantitative","scale":{"domain":[48.9,228.4],"nice":false,"zero":false},"axis":null}}},
    {"data":{"values":[{"t":12.86,"v":85,"lbl":"85km/h 8時12分51.5秒"}]},"mark":{"type":"text","align":"left","dx":8,"dy":-7,"fontSize":14,"color":"#222222"},
     "encoding":{"x":{"field":"t","type":"quantitative","scale":{"domain":[-0.276,71.08],"nice":false,"zero":false},"axis":null},"y":{"field":"v","type":"quantitative","scale":{"domain":[48.9,228.4],"nice":false,"zero":false},"axis":null},"text":{"field":"lbl"}}},
    {"data":{"values":[{}]},"mark":{"type":"rule","color":"#888888","strokeWidth":1.5},
     "encoding":{"x":{"datum":-0.15,"type":"quantitative","scale":{"domain":[-0.276,71.08],"nice":false,"zero":false},"axis":null},"x2":{"datum":69.57},"y":{"datum":218.6,"type":"quantitative","scale":{"domain":[48.9,228.4],"nice":false,"zero":false},"axis":null}}},
    {"data":{"values":[{}]},"mark":{"type":"rule","color":"#888888","strokeWidth":1.5},
     "encoding":{"x":{"datum":69.57,"type":"quantitative","scale":{"domain":[-0.276,71.08],"nice":false,"zero":false},"axis":null},"y":{"datum":49.5,"type":"quantitative","scale":{"domain":[48.9,228.4],"nice":false,"zero":false},"axis":null},"y2":{"datum":218.6}}},
    {"data":{"values":[{}]},"mark":{"type":"rule","color":"#000000","strokeWidth":7},
     "encoding":{"x":{"datum":0.17,"type":"quantitative","scale":{"domain":[-0.276,71.08],"nice":false,"zero":false},"axis":null},"x2":{"datum":70.64},"y":{"datum":225.5,"type":"quantitative","scale":{"domain":[48.9,228.4],"nice":false,"zero":false},"axis":null}}},
    {"data":{"values":[{}]},"mark":{"type":"rule","color":"#000000","strokeWidth":7},
     "encoding":{"x":{"datum":70.64,"type":"quantitative","scale":{"domain":[-0.276,71.08],"nice":false,"zero":false},"axis":null},"y":{"datum":52,"type":"quantitative","scale":{"domain":[48.9,228.4],"nice":false,"zero":false},"axis":null},"y2":{"datum":225.5}}}
   ]},
  {"width":377,"height":212,"data":{"values":[{}]},"mark":{"type":"point","size":0,"opacity":0},"view":{"fill":"#ffffff","stroke":"#8a8a8a","strokeWidth":2}}
 ],"spacing":0}
],"spacing":0},
{"vconcat":[
 {"width":444,"height":3,"data":{"values":[{}]},"mark":{"type":"point","size":0,"opacity":0},"view":{"fill":null,"stroke":null}},
 {"vconcat":[
  {"hconcat":[
   {"width":211,"height":292,"view":{"fill":"#ffffff","stroke":"#8a8a8a","strokeWidth":2},
    "layer":[
     {"data":{"values":[{"g":10},{"g":20},{"g":30},{"g":40}]},"mark":{"type":"rule","color":"#111111","strokeWidth":1.3,"strokeDash":[3,2]},
      "encoding":{"x":{"field":"g","type":"quantitative","scale":{"domain":[-12.63,41.2],"nice":false,"zero":false},"axis":null},"y":{"datum":0,"type":"quantitative","scale":{"domain":[-11.49,139.02],"nice":false,"zero":false},"axis":null},"y2":{"datum":118.5}}},
     {"data":{"values":[{"g":10},{"g":20},{"g":30}]},"mark":{"type":"text","font":"Liberation Serif","fontSize":8,"color":"#444444"},
      "encoding":{"x":{"field":"g","type":"quantitative","scale":{"domain":[-12.63,41.2],"nice":false,"zero":false},"axis":null},"y":{"datum":-6.9,"type":"quantitative","scale":{"domain":[-11.49,139.02],"nice":false,"zero":false},"axis":null},"text":{"field":"g","type":"quantitative"}}},
     {"data":{"values":[{"t":"(%,回)"}]},"mark":{"type":"text","fontSize":6,"color":"#444444"},
      "encoding":{"x":{"datum":36.5,"type":"quantitative","scale":{"domain":[-12.63,41.2],"nice":false,"zero":false},"axis":null},"y":{"datum":-6.9,"type":"quantitative","scale":{"domain":[-11.49,139.02],"nice":false,"zero":false},"axis":null},"text":{"field":"t"}}},
     {"data":{"name":"speedLab"},"mark":{"type":"text","align":"right","font":"Liberation Serif","fontSize":8,"color":"#444444"},
      "encoding":{"x":{"datum":-2.2,"type":"quantitative","scale":{"domain":[-12.63,41.2],"nice":false,"zero":false},"axis":null},"y":{"field":"v","type":"quantitative","scale":{"domain":[-11.49,139.02],"nice":false,"zero":false},"axis":null},"text":{"field":"v","type":"quantitative"}}},
     {"data":{"name":"speedLab"},"transform":[{"filter":"datum.v > 0"}],"mark":{"type":"text","align":"left","font":"Liberation Serif","fontSize":10,"color":"#444444"},
      "encoding":{"x":{"datum":-10.6,"type":"quantitative","scale":{"domain":[-12.63,41.2],"nice":false,"zero":false},"axis":null},"y":{"field":"v","type":"quantitative","scale":{"domain":[-11.49,139.02],"nice":false,"zero":false},"axis":null},"text":{"value":"~"}}},
     {"data":{"values":[{"t":"[Km/h]"}]},"mark":{"type":"text","fontSize":6,"color":"#444444"},
      "encoding":{"x":{"datum":-3.4,"type":"quantitative","scale":{"domain":[-12.63,41.2],"nice":false,"zero":false},"axis":null},"y":{"datum":121.5,"type":"quantitative","scale":{"domain":[-11.49,139.02],"nice":false,"zero":false},"axis":null},"text":{"field":"t"}}},
     {"data":{"values":[{"t":"速度分布"}]},"mark":{"type":"text","align":"left","fontSize":9.5,"fontWeight":"bold","color":"#222222"},
      "encoding":{"x":{"datum":-10.6,"type":"quantitative","scale":{"domain":[-12.63,41.2],"nice":false,"zero":false},"axis":null},"y":{"datum":133.4,"type":"quantitative","scale":{"domain":[-11.49,139.02],"nice":false,"zero":false},"axis":null},"text":{"field":"t"}}},
     {"data":{"name":"speedDist"},"mark":{"type":"line","strokeWidth":2.2},
      "encoding":{"x":{"field":"p","type":"quantitative","scale":{"domain":[-12.63,41.2],"nice":false,"zero":false},"axis":null},"y":{"field":"v","type":"quantitative","scale":{"domain":[-11.49,139.02],"nice":false,"zero":false},"axis":null},"order":{"field":"v","type":"quantitative"},
       "color":{"field":"s","type":"nominal","scale":{"domain":["一般道","高速道","ｴﾝｼﾞﾝｵｰﾊﾞｰ"],"range":["#0000ff","#00ee00","#ffee00"]},
        "legend":{"orient":"none","legendX":10,"legendY":13,"direction":"horizontal","title":null,"labelFontSize":7,"labelColor":"#333333","symbolType":"stroke","symbolStrokeWidth":2.5,"symbolSize":576,"columnPadding":9,"labelOffset":4,"padding":0}}}},
     {"data":{"name":"speedDist"},"transform":[{"filter":"datum.s === '一般道'"}],"mark":{"type":"point","shape":"diamond","filled":true,"size":22,"color":"#0000ff","opacity":1},
      "encoding":{"x":{"field":"p","type":"quantitative","scale":{"domain":[-12.63,41.2],"nice":false,"zero":false},"axis":null},"y":{"field":"v","type":"quantitative","scale":{"domain":[-11.49,139.02],"nice":false,"zero":false},"axis":null}}},
     {"data":{"name":"speedDist"},"transform":[{"filter":"datum.s === '高速道'"}],"mark":{"type":"point","shape":"square","filled":true,"size":14,"color":"#00ee00","opacity":1},
      "encoding":{"x":{"field":"p","type":"quantitative","scale":{"domain":[-12.63,41.2],"nice":false,"zero":false},"axis":null},"y":{"field":"v","type":"quantitative","scale":{"domain":[-11.49,139.02],"nice":false,"zero":false},"axis":null}}}
    ]},
   {"width":215,"height":292,"view":{"fill":"#ffffff","stroke":"#8a8a8a","strokeWidth":2},
    "layer":[
     {"data":{"values":[{"g":10},{"g":20},{"g":30},{"g":40}]},"mark":{"type":"rule","color":"#111111","strokeWidth":1.3,"strokeDash":[3,2]},
      "encoding":{"x":{"field":"g","type":"quantitative","scale":{"domain":[-7.27,41.59],"nice":false,"zero":false},"axis":null},"y":{"datum":-12.6,"type":"quantitative","scale":{"domain":[-14.51,16.99],"nice":false,"zero":false},"axis":null},"y2":{"datum":12.8}}},
     {"data":{"values":[{}]},"mark":{"type":"rule","color":"#777777","strokeWidth":1.5},
      "encoding":{"x":{"datum":0,"type":"quantitative","scale":{"domain":[-7.27,41.59],"nice":false,"zero":false},"axis":null},"y":{"datum":-12.6,"type":"quantitative","scale":{"domain":[-14.51,16.99],"nice":false,"zero":false},"axis":null},"y2":{"datum":12.8}}},
     {"data":{"values":[{"g":10},{"g":20},{"g":30}]},"mark":{"type":"text","font":"Liberation Serif","fontSize":8,"color":"#444444"},
      "encoding":{"x":{"field":"g","type":"quantitative","scale":{"domain":[-7.27,41.59],"nice":false,"zero":false},"axis":null},"y":{"datum":-13.5,"type":"quantitative","scale":{"domain":[-14.51,16.99],"nice":false,"zero":false},"axis":null},"text":{"field":"g","type":"quantitative"}}},
     {"data":{"values":[{"t":"(%)"}]},"mark":{"type":"text","fontSize":6,"color":"#444444"},
      "encoding":{"x":{"datum":39.5,"type":"quantitative","scale":{"domain":[-7.27,41.59],"nice":false,"zero":false},"axis":null},"y":{"datum":-13.5,"type":"quantitative","scale":{"domain":[-14.51,16.99],"nice":false,"zero":false},"axis":null},"text":{"field":"t"}}},
     {"data":{"name":"accelLab"},"transform":[{"calculate":"abs(datum.v)","as":"num"}],"mark":{"type":"text","align":"right","font":"Liberation Serif","fontSize":8,"color":"#444444"},
      "encoding":{"x":{"datum":-1.6,"type":"quantitative","scale":{"domain":[-7.27,41.59],"nice":false,"zero":false},"axis":null},"y":{"field":"v","type":"quantitative","scale":{"domain":[-14.51,16.99],"nice":false,"zero":false},"axis":null},"text":{"field":"num","type":"quantitative"}}},
     {"data":{"name":"accelLab"},"transform":[{"calculate":"datum.v > 0 ? '+' : '-'","as":"sgn"}],"mark":{"type":"text","font":"Liberation Serif","fontSize":8,"color":"#444444"},
      "encoding":{"x":{"datum":-5.45,"type":"quantitative","scale":{"domain":[-7.27,41.59],"nice":false,"zero":false},"axis":null},"y":{"field":"v","type":"quantitative","scale":{"domain":[-14.51,16.99],"nice":false,"zero":false},"axis":null},"text":{"field":"sgn"}}},
     {"data":{"values":[{"t":"[Km/h/s]"}]},"mark":{"type":"text","fontSize":6,"color":"#444444"},
      "encoding":{"x":{"datum":-3.2,"type":"quantitative","scale":{"domain":[-7.27,41.59],"nice":false,"zero":false},"axis":null},"y":{"datum":13.3,"type":"quantitative","scale":{"domain":[-14.51,16.99],"nice":false,"zero":false},"axis":null},"text":{"field":"t"}}},
     {"data":{"values":[{"t":"速度差分布"}]},"mark":{"type":"text","align":"left","fontSize":9.5,"fontWeight":"bold","color":"#222222"},
      "encoding":{"x":{"datum":-6.4,"type":"quantitative","scale":{"domain":[-7.27,41.59],"nice":false,"zero":false},"axis":null},"y":{"datum":15.8,"type":"quantitative","scale":{"domain":[-14.51,16.99],"nice":false,"zero":false},"axis":null},"text":{"field":"t"}}},
     {"data":{"name":"accelDist"},"mark":{"type":"line","strokeWidth":2.2},
      "encoding":{"x":{"field":"p","type":"quantitative","scale":{"domain":[-7.27,41.59],"nice":false,"zero":false},"axis":null},"y":{"field":"v","type":"quantitative","scale":{"domain":[-14.51,16.99],"nice":false,"zero":false},"axis":null},"order":{"field":"v","type":"quantitative"},
       "color":{"field":"s","type":"nominal","scale":{"domain":["空車","実車"],"range":["#0000ff","#00ee00"]},
        "legend":{"orient":"none","legendX":82,"legendY":13,"direction":"horizontal","title":null,"labelFontSize":7,"labelColor":"#333333","symbolType":"stroke","symbolStrokeWidth":2.5,"symbolSize":576,"columnPadding":12,"labelOffset":5,"padding":0}}}},
     {"data":{"name":"accelDist"},"transform":[{"filter":"datum.s === '空車'"}],"mark":{"type":"point","shape":"diamond","filled":true,"size":22,"color":"#0000ff","opacity":1},
      "encoding":{"x":{"field":"p","type":"quantitative","scale":{"domain":[-7.27,41.59],"nice":false,"zero":false},"axis":null},"y":{"field":"v","type":"quantitative","scale":{"domain":[-14.51,16.99],"nice":false,"zero":false},"axis":null}}},
     {"data":{"name":"accelDist"},"transform":[{"filter":"datum.s === '実車'"}],"mark":{"type":"point","shape":"square","filled":true,"size":16,"color":"#00ee00","opacity":1},
      "encoding":{"x":{"field":"p","type":"quantitative","scale":{"domain":[-7.27,41.59],"nice":false,"zero":false},"axis":null},"y":{"field":"v","type":"quantitative","scale":{"domain":[-14.51,16.99],"nice":false,"zero":false},"axis":null}}}
    ]}
  ],"spacing":5,"resolve":{"scale":{"color":"independent"}}},
  {"hconcat":[
   {"width":211,"height":292,"view":{"fill":"#ffffff","stroke":"#8a8a8a","strokeWidth":2},
    "layer":[
     {"data":{"values":[{"g":10},{"g":20},{"g":30},{"g":40},{"g":50}]},"mark":{"type":"rule","color":"#111111","strokeWidth":1.3,"strokeDash":[3,2]},
      "encoding":{"x":{"field":"g","type":"quantitative","scale":{"domain":[-15.87,51.76],"nice":false,"zero":false},"axis":null},"y":{"datum":600,"type":"quantitative","scale":{"domain":[143,6132],"nice":false,"zero":false},"axis":null},"y2":{"datum":5318}}},
     {"data":{"values":[{"g":10},{"g":20},{"g":30},{"g":40}]},"mark":{"type":"text","font":"Liberation Serif","fontSize":8,"color":"#444444"},
      "encoding":{"x":{"field":"g","type":"quantitative","scale":{"domain":[-15.87,51.76],"nice":false,"zero":false},"axis":null},"y":{"datum":327,"type":"quantitative","scale":{"domain":[143,6132],"nice":false,"zero":false},"axis":null},"text":{"field":"g","type":"quantitative"}}},
     {"data":{"values":[{"t":"(%)"}]},"mark":{"type":"text","fontSize":6,"color":"#444444"},
      "encoding":{"x":{"datum":48,"type":"quantitative","scale":{"domain":[-15.87,51.76],"nice":false,"zero":false},"axis":null},"y":{"datum":327,"type":"quantitative","scale":{"domain":[143,6132],"nice":false,"zero":false},"axis":null},"text":{"field":"t"}}},
     {"data":{"name":"rpmLab"},"mark":{"type":"text","align":"right","font":"Liberation Serif","fontSize":8,"color":"#444444"},
      "encoding":{"x":{"datum":-2.7,"type":"quantitative","scale":{"domain":[-15.87,51.76],"nice":false,"zero":false},"axis":null},"y":{"field":"v","type":"quantitative","scale":{"domain":[143,6132],"nice":false,"zero":false},"axis":null},"text":{"field":"t"}}},
     {"data":{"name":"rpmLab"},"transform":[{"filter":"datum.v > 600"}],"mark":{"type":"text","align":"left","font":"Liberation Serif","fontSize":10,"color":"#444444"},
      "encoding":{"x":{"datum":-13.3,"type":"quantitative","scale":{"domain":[-15.87,51.76],"nice":false,"zero":false},"axis":null},"y":{"field":"v","type":"quantitative","scale":{"domain":[143,6132],"nice":false,"zero":false},"axis":null},"text":{"value":"~"}}},
     {"data":{"values":[{"t":"[rpm]"}]},"mark":{"type":"text","fontSize":6,"color":"#444444"},
      "encoding":{"x":{"datum":-3.4,"type":"quantitative","scale":{"domain":[-15.87,51.76],"nice":false,"zero":false},"axis":null},"y":{"datum":5430,"type":"quantitative","scale":{"domain":[143,6132],"nice":false,"zero":false},"axis":null},"text":{"field":"t"}}},
     {"data":{"values":[{"t":"ｴﾝｼﾞﾝ回転数分布"}]},"mark":{"type":"text","align":"left","fontSize":9.5,"fontWeight":"bold","color":"#222222"},
      "encoding":{"x":{"datum":-13.3,"type":"quantitative","scale":{"domain":[-15.87,51.76],"nice":false,"zero":false},"axis":null},"y":{"datum":5907,"type":"quantitative","scale":{"domain":[143,6132],"nice":false,"zero":false},"axis":null},"text":{"field":"t"}}},
     {"data":{"name":"rpmDist"},"mark":{"type":"line","strokeWidth":2.2},
      "encoding":{"x":{"field":"p","type":"quantitative","scale":{"domain":[-15.87,51.76],"nice":false,"zero":false},"axis":null},"y":{"field":"v","type":"quantitative","scale":{"domain":[143,6132],"nice":false,"zero":false},"axis":null},"order":{"field":"v","type":"quantitative"},
       "color":{"field":"s","type":"nominal","scale":{"domain":["一般道","高速道"],"range":["#0000ff","#00ee00"]},
        "legend":{"orient":"none","legendX":72,"legendY":12,"direction":"horizontal","title":null,"labelFontSize":7,"labelColor":"#333333","symbolType":"stroke","symbolStrokeWidth":2.5,"symbolSize":576,"columnPadding":12,"labelOffset":5,"padding":0}}}},
     {"data":{"name":"rpmDist"},"transform":[{"filter":"datum.s === '一般道'"}],"mark":{"type":"point","shape":"diamond","filled":true,"size":22,"color":"#0000ff","opacity":1},
      "encoding":{"x":{"field":"p","type":"quantitative","scale":{"domain":[-15.87,51.76],"nice":false,"zero":false},"axis":null},"y":{"field":"v","type":"quantitative","scale":{"domain":[143,6132],"nice":false,"zero":false},"axis":null}}},
     {"data":{"name":"rpmDist"},"transform":[{"filter":"datum.s === '高速道'"}],"mark":{"type":"point","shape":"square","filled":true,"size":14,"color":"#00ee00","opacity":1},
      "encoding":{"x":{"field":"p","type":"quantitative","scale":{"domain":[-15.87,51.76],"nice":false,"zero":false},"axis":null},"y":{"field":"v","type":"quantitative","scale":{"domain":[143,6132],"nice":false,"zero":false},"axis":null}}}
    ]},
   {"width":215,"height":292,"view":{"fill":"#ffffff","stroke":"#8a8a8a","strokeWidth":2},
    "layer":[
     {"data":{"values":[{"g":10},{"g":20},{"g":30},{"g":40},{"g":50},{"g":60},{"g":70},{"g":80}]},"mark":{"type":"rule","color":"#111111","strokeWidth":1.3,"strokeDash":[3,2]},
      "encoding":{"x":{"field":"g","type":"quantitative","scale":{"domain":[-25.28,84.97],"nice":false,"zero":false},"axis":null},"y":{"datum":0,"type":"quantitative","scale":{"domain":[-31.95,386.4],"nice":false,"zero":false},"axis":null},"y2":{"datum":336}}},
     {"data":{"values":[{}]},"mark":{"type":"rule","color":"#777777","strokeWidth":1.5},
      "encoding":{"x":{"datum":0,"type":"quantitative","scale":{"domain":[-25.28,84.97],"nice":false,"zero":false},"axis":null},"y":{"datum":0,"type":"quantitative","scale":{"domain":[-31.95,386.4],"nice":false,"zero":false},"axis":null},"y2":{"datum":336}}},
     {"data":{"values":[{"g":10},{"g":20},{"g":30},{"g":40},{"g":50},{"g":60},{"g":70}]},"mark":{"type":"text","font":"Liberation Serif","fontSize":8,"color":"#444444"},
      "encoding":{"x":{"field":"g","type":"quantitative","scale":{"domain":[-25.28,84.97],"nice":false,"zero":false},"axis":null},"y":{"datum":-19,"type":"quantitative","scale":{"domain":[-31.95,386.4],"nice":false,"zero":false},"axis":null},"text":{"field":"g","type":"quantitative"}}},
     {"data":{"values":[{"t":"(%)"}]},"mark":{"type":"text","fontSize":6,"color":"#444444"},
      "encoding":{"x":{"datum":80,"type":"quantitative","scale":{"domain":[-25.28,84.97],"nice":false,"zero":false},"axis":null},"y":{"datum":-19,"type":"quantitative","scale":{"domain":[-31.95,386.4],"nice":false,"zero":false},"axis":null},"text":{"field":"t"}}},
     {"data":{"name":"gearLab"},"mark":{"type":"text","align":"right","font":"Liberation Serif","fontSize":8,"color":"#444444"},
      "encoding":{"x":{"datum":-5.3,"type":"quantitative","scale":{"domain":[-25.28,84.97],"nice":false,"zero":false},"axis":null},"y":{"field":"v","type":"quantitative","scale":{"domain":[-31.95,386.4],"nice":false,"zero":false},"axis":null},"text":{"field":"v","type":"quantitative"}}},
     {"data":{"name":"gearLab"},"transform":[{"filter":"datum.v > 0"}],"mark":{"type":"text","align":"left","font":"Liberation Serif","fontSize":10,"color":"#444444"},
      "encoding":{"x":{"datum":-20.7,"type":"quantitative","scale":{"domain":[-25.28,84.97],"nice":false,"zero":false},"axis":null},"y":{"field":"v","type":"quantitative","scale":{"domain":[-31.95,386.4],"nice":false,"zero":false},"axis":null},"text":{"value":"~"}}},
     {"data":{"values":[{"t":"[rpm/km/h]"}]},"mark":{"type":"text","fontSize":6,"color":"#444444"},
      "encoding":{"x":{"datum":-10.9,"type":"quantitative","scale":{"domain":[-25.28,84.97],"nice":false,"zero":false},"axis":null},"y":{"datum":340,"type":"quantitative","scale":{"domain":[-31.95,386.4],"nice":false,"zero":false},"axis":null},"text":{"field":"t"}}},
     {"data":{"values":[{"t":"ギヤ比分布"}]},"mark":{"type":"text","align":"left","fontSize":9.5,"fontWeight":"bold","color":"#222222"},
      "encoding":{"x":{"datum":-23.2,"type":"quantitative","scale":{"domain":[-25.28,84.97],"nice":false,"zero":false},"axis":null},"y":{"datum":370.6,"type":"quantitative","scale":{"domain":[-31.95,386.4],"nice":false,"zero":false},"axis":null},"text":{"field":"t"}}},
     {"data":{"name":"gearDist"},"mark":{"type":"line","strokeWidth":2.2},
      "encoding":{"x":{"field":"p","type":"quantitative","scale":{"domain":[-25.28,84.97],"nice":false,"zero":false},"axis":null},"y":{"field":"v","type":"quantitative","scale":{"domain":[-31.95,386.4],"nice":false,"zero":false},"axis":null},"order":{"field":"v","type":"quantitative"},
       "color":{"field":"s","type":"nominal","scale":{"domain":["空車","実車"],"range":["#0000ff","#00ee00"]},
        "legend":{"orient":"none","legendX":82,"legendY":12,"direction":"horizontal","title":null,"labelFontSize":7,"labelColor":"#333333","symbolType":"stroke","symbolStrokeWidth":2.5,"symbolSize":576,"columnPadding":12,"labelOffset":5,"padding":0}}}},
     {"data":{"name":"gearDist"},"transform":[{"filter":"datum.s === '空車'"}],"mark":{"type":"point","shape":"diamond","filled":true,"size":22,"color":"#0000ff","opacity":1},
      "encoding":{"x":{"field":"p","type":"quantitative","scale":{"domain":[-25.28,84.97],"nice":false,"zero":false},"axis":null},"y":{"field":"v","type":"quantitative","scale":{"domain":[-31.95,386.4],"nice":false,"zero":false},"axis":null}}},
     {"data":{"name":"gearDist"},"transform":[{"filter":"datum.s === '実車'"}],"mark":{"type":"point","shape":"square","filled":true,"size":14,"color":"#00ee00","opacity":1},
      "encoding":{"x":{"field":"p","type":"quantitative","scale":{"domain":[-25.28,84.97],"nice":false,"zero":false},"axis":null},"y":{"field":"v","type":"quantitative","scale":{"domain":[-31.95,386.4],"nice":false,"zero":false},"axis":null}}}
    ]}
  ],"spacing":5,"resolve":{"scale":{"color":"independent"}}}
 ],"spacing":6,"resolve":{"scale":{"color":"independent"}}},
 {"width":444,"height":182,"view":{"fill":"#ffffff","stroke":null},
  "data":{"name":"evalT"},
  "transform":[{"calculate":"datum.c-0.5","as":"x0"},{"calculate":"datum.c+0.5","as":"x1"}],
  "layer":[
   {"mark":{"type":"rect","fill":"#c0c0c0","stroke":"#333333","strokeWidth":1.5},
    "encoding":{"x":{"field":"x0","type":"quantitative","scale":{"domain":[-0.951,2.039],"nice":false,"zero":false},"axis":null},"x2":{"field":"x1"},"y":{"datum":0,"type":"quantitative","scale":{"domain":[-1.028,4.028],"reverse":true,"nice":false,"zero":false},"axis":null},"y2":{"datum":1}}},
   {"mark":{"type":"rect","fill":"#ffffff","stroke":"#333333","strokeWidth":1.5},
    "encoding":{"x":{"field":"x0","type":"quantitative","scale":{"domain":[-0.951,2.039],"nice":false,"zero":false},"axis":null},"x2":{"field":"x1"},"y":{"datum":1,"type":"quantitative","scale":{"domain":[-1.028,4.028],"reverse":true,"nice":false,"zero":false},"axis":null},"y2":{"datum":2.528}}},
   {"mark":{"type":"text","fontSize":22,"color":"#666666"},
    "encoding":{"x":{"field":"c","type":"quantitative","scale":{"domain":[-0.951,2.039],"nice":false,"zero":false},"axis":null},"y":{"datum":0.5,"type":"quantitative","scale":{"domain":[-1.028,4.028],"reverse":true,"nice":false,"zero":false},"axis":null},"text":{"field":"h"}}},
   {"mark":{"type":"text","fontSize":28,"color":"#111111"},
    "encoding":{"x":{"field":"c","type":"quantitative","scale":{"domain":[-0.951,2.039],"nice":false,"zero":false},"axis":null},"y":{"datum":1.764,"type":"quantitative","scale":{"domain":[-1.028,4.028],"reverse":true,"nice":false,"zero":false},"axis":null},"text":{"field":"b"}}}
  ]}
],"spacing":5,"resolve":{"scale":{"color":"independent"}}}
],"spacing":6,"resolve":{"scale":{"color":"independent"}}}
]
}
